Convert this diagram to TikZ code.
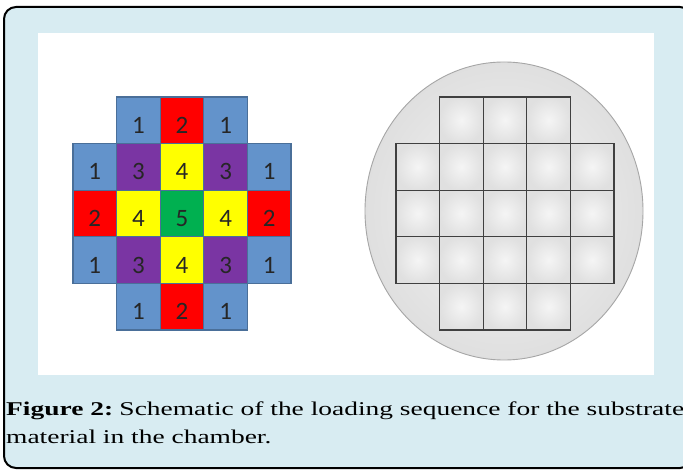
\documentclass[tikz,border=0pt]{standalone}
\usepackage{fontspec}
\setmainfont{Liberation Serif}
\newfontfamily\numfont{Carlito}
\usetikzlibrary{shapes.geometric}
\definecolor{framebg}{HTML}{D8ECF2}
\definecolor{c1}{HTML}{6393CB}
\definecolor{c2}{HTML}{FF0000}
\definecolor{c3}{HTML}{7A35A3}
\definecolor{c4}{HTML}{FFFF00}
\definecolor{c5}{HTML}{00B050}
\definecolor{cellline}{HTML}{4A6F99}
\newlength\capw
\newcommand\capsize{\fontsize{19.5}{19.5}\selectfont}
\newcommand\capline{\capsize\textbf{Figure 2:}\hspace{-2pt} Schematic of the loading sequence for the substrate}
\tikzset{
  cellbox/.style={draw=cellline, line width=1.2pt, minimum width=43.6pt, minimum height=46.6pt,
    inner sep=0pt, outer sep=0pt, anchor=north west},
  numlabel/.style={font=\numfont\fontsize{25}{25}\selectfont, text=black!85, yshift=-5pt, inner sep=0pt},
  wafercell/.style={draw=black!75, line width=1.3pt, minimum width=43.6pt, minimum height=46.6pt,
    inner sep=0pt, outer sep=0pt, anchor=north west, inner color=gray!8, outer color=gray!24},
  capfont/.style={inner sep=0pt, anchor=base west},
}
\begin{document}
\settowidth{\capw}{\capline}%
\pgfmathsetmacro\capsx{678/\capw}%
\begin{tikzpicture}[x=1pt, y=-1pt]
\useasboundingbox (0,0) rectangle (683,470);
\begin{scope}
  \clip (0,0) rectangle (683,470);
  \draw[line width=2pt, fill=framebg, rounded corners=12pt] (4,7) rectangle (692,468);
\end{scope}
\fill[white] (38,33) rectangle (654,375);
\node[ellipse, minimum width=278pt, minimum height=298pt, draw=gray!70, line width=0.9pt,
  inner color=gray!8, outer color=gray!25] (wafer) at (504,211) {};
\foreach \r/\c/\n in {0/1/1,0/2/2,0/3/1,
  1/0/1,1/1/3,1/2/4,1/3/3,1/4/1,
  2/0/2,2/1/4,2/2/5,2/3/4,2/4/2,
  3/0/1,3/1/3,3/2/4,3/3/3,3/4/1,
  4/1/1,4/2/2,4/3/1} {
  \node[cellbox, fill=c\n, label={[numlabel]center:\n}] (L-\r-\c) at (73+43.6*\c, 97+46.6*\r) {};
  \node[wafercell] (R-\r-\c) at (396+43.6*\c, 97+46.6*\r) {};
}
\node[capfont] (cap1) at (6,415) {\scalebox{\capsx}[1]{\capline}};
\node[capfont] (cap2) at (6,443) {\scalebox{\capsx}[1]{\capsize material in the chamber.}};
\end{tikzpicture}
\end{document}
